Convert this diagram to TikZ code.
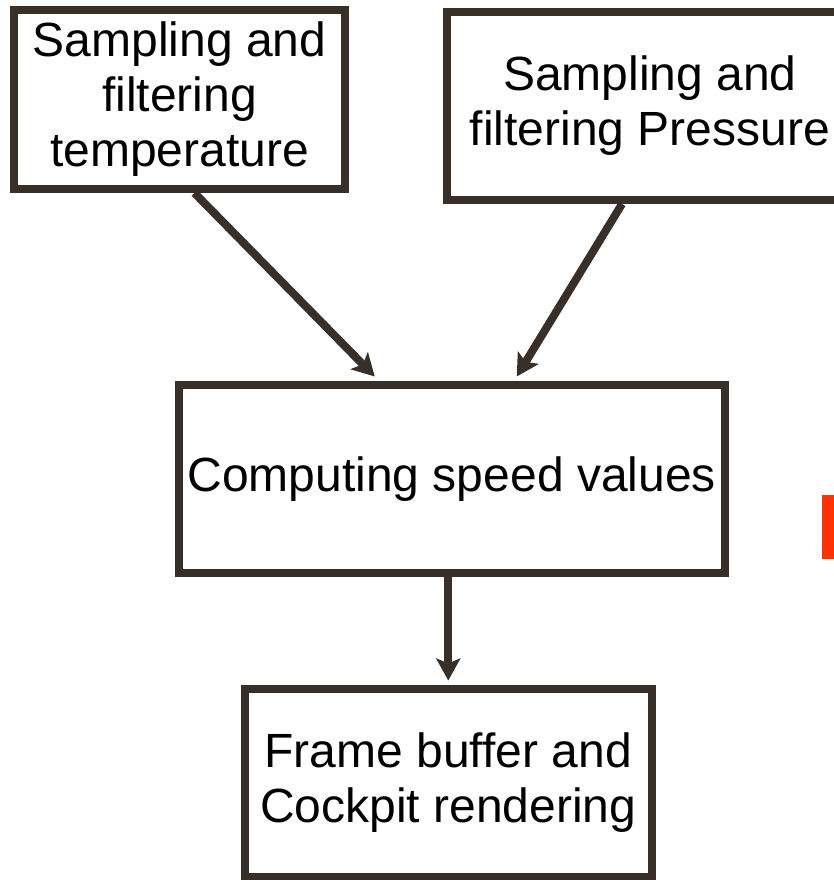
\documentclass[tikz,border=0pt]{standalone}
\usepackage{fontspec}
\setmainfont{Liberation Sans}
\usetikzlibrary{arrows.meta}
\definecolor{boxline}{RGB}{56,47,40}
\definecolor{warnred}{RGB}{255,51,0}
\begin{document}
\begin{tikzpicture}[x=1pt,y=-1pt,font=\fontsize{48}{55}\selectfont,
  blk/.style={draw=boxline,line width=8pt,rectangle,align=center,inner sep=0pt},
  flow/.style={draw=boxline,line width=8pt,-{Stealth[length=22pt,width=24pt,inset=5pt]}}]

\clip (0,0) rectangle (834,880);

\node[blk,minimum width=331pt,minimum height=179pt] (tempbox) at (179.5,99.5) {Sampling and\\filtering\\temperature};
\node[blk,minimum width=406pt,minimum height=188pt] (presbox) at (650,106) {Sampling and\\filtering Pressure};
\node[blk,minimum width=545.5pt,minimum height=188.5pt] (calcbox) at (451.75,478.75) {Computing speed values};
\node[blk,minimum width=407.5pt,minimum height=188pt] (rendbox) at (448.25,782.5) {Frame buffer and\\Cockpit rendering};

\draw[flow] ([xshift=15pt]tempbox.south) -- ([xshift=-77pt,yshift=4pt]calcbox.north);
\draw[flow] ([xshift=-28pt]presbox.south) -- ([xshift=65pt,yshift=4pt]calcbox.north);
\draw[flow] (calcbox.south -| rendbox.north) -- ([yshift=4pt]rendbox.north);

\fill[warnred] (822,495) rectangle (840,559);
\end{tikzpicture}
\end{document}
